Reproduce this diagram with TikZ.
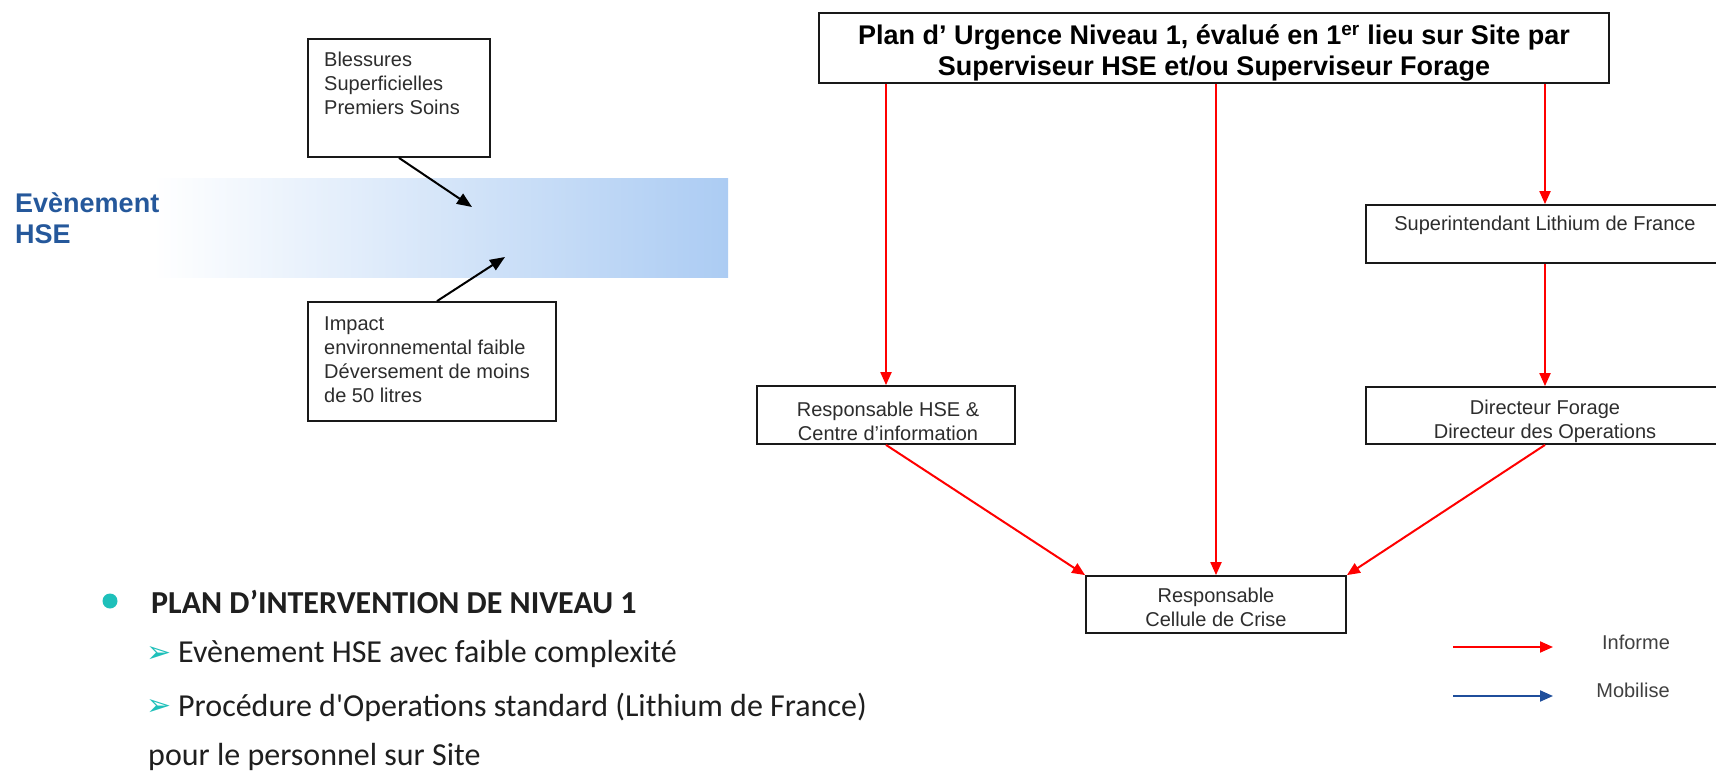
\documentclass[tikz,border=0pt]{standalone}
\usepackage{fontspec}
\setmainfont{Liberation Sans}
\newfontfamily\calib{Carlito}
\newfontfamily\dejavu{DejaVu Sans}
\usetikzlibrary{arrows.meta}
\definecolor{informered}{RGB}{255,0,0}
\definecolor{mobblue}{RGB}{31,78,155}
\definecolor{bandblue}{RGB}{172,204,243}
\definecolor{titleblue}{RGB}{37,88,155}
\definecolor{tealone}{RGB}{30,192,186}
\definecolor{boxtext}{RGB}{45,45,45}
\tikzset{
 box/.style={draw=black!90, line width=1.8pt, fill=white, inner sep=0pt},
 smalltxt/.style={font=\fontsize{20}{24}\selectfont, text=boxtext, inner sep=0pt, align=center},
 lefttxt/.style={smalltxt, align=left, anchor=west},
 boldtxt/.style={font=\bfseries\fontsize{27}{31}\selectfont, text=black, inner sep=0pt, align=center},
 informe/.style={draw=informered, line width=2pt, -{Triangle[length=13pt,width=11pt]}},
 mobilise/.style={draw=mobblue, line width=2pt, -{Triangle[length=13pt,width=11pt]}},
 blackarrow/.style={draw=black, line width=2pt, -{Triangle[length=15pt,width=12pt]}},
 bodytxt/.style={font=\calib\fontsize{32}{38}\selectfont, text=black!88, inner sep=0pt, anchor=west},
 bulletarrow/.style={font=\dejavu\fontsize{30}{34}\selectfont, text=tealone, inner sep=0pt, anchor=west},
}
\begin{document}
\begin{tikzpicture}[x=1pt,y=-1pt]
\useasboundingbox[fill=white] (0,0) rectangle (1716,771);

% left part
\shade[left color=white, right color=bandblue] (153,178) rectangle (728,277);
\node[font=\bfseries\fontsize{27}{31}\selectfont, text=titleblue, align=left, anchor=west, inner sep=0pt] (evt) at (15,218.5) {Evènement\\HSE};

\node[box, minimum width=182pt, minimum height=118pt] (bless) at (399,98) {};
\node[lefttxt] (blesst) at (324,83) {Blessures\\Superficielles\\Premiers Soins};

\node[box, minimum width=248pt, minimum height=119pt] (impact) at (432,361.5) {};
\node[lefttxt] (impactt) at (324,360) {Impact\\environnemental faible\\Déversement de moins\\de 50 litres};

\coordinate (e1) at (472,207);
\coordinate (e2) at (505,257);
\draw[blackarrow] (bless.south) -- (e1);
\draw[blackarrow] ([xshift=5pt]impact.north) -- (e2);

% right part
\node[box, minimum width=790pt, minimum height=70pt] (top) at (1214,48) {};
\node[boldtxt] (topt) at (1214,52.5) {Plan d’ Urgence Niveau 1, évalué en 1\textsuperscript{er} lieu sur Site par\\Superviseur HSE et/ou Superviseur Forage};

\node[box, minimum width=358pt, minimum height=58pt] (sup) at (1545,234) {};
\node[smalltxt] (supt) at (1545,225) {Superintendant Lithium de France};

\node[box, minimum width=358pt, minimum height=57pt] (dir) at (1545,415.5) {};
\node[smalltxt] (dirt) at (1545,421) {Directeur Forage\\Directeur des Operations};

\node[box, minimum width=258pt, minimum height=58pt] (hse) at (886,415) {};
\node[smalltxt] (hset) at (888,421.5) {Responsable HSE \&\\Centre d’information};

\node[box, minimum width=260pt, minimum height=57pt] (crise) at (1216,604.5) {};
\node[smalltxt] (criset) at (1216,607.5) {Responsable\\Cellule de Crise};

\draw[informe] (top.south -| hse.north) -- (hse.north);
\draw[informe] (top.south -| crise.north) -- (crise.north);
\draw[informe] (top.south -| sup.north) -- (sup.north);
\draw[informe] (sup.south) -- (dir.north);
\draw[informe] (hse.south) -- (crise.north west);
\draw[informe] (dir.south) -- (crise.north east);

% legend
\coordinate (l1a) at (1453,647);
\coordinate (l1b) at (1553,647);
\coordinate (l2a) at (1453,696);
\coordinate (l2b) at (1553,696);
\draw[informe] (l1a) -- (l1b);
\draw[mobilise] (l2a) -- (l2b);
\node[smalltxt, text=black!75] (inf) at (1636,642) {Informe};
\node[smalltxt, text=black!75] (mob) at (1633,690) {Mobilise};

% bottom text
\node[circle, fill=tealone, minimum size=15pt, inner sep=0pt] (dot) at (110,601) {};
\node[bodytxt, font=\calib\bfseries\fontsize{32}{38}\selectfont] (plan) at (151,602) {PLAN D’INTERVENTION DE NIVEAU 1};
\node[bulletarrow] (b1) at (146,654) {➢};
\node[bodytxt] (l2) at (178,654) {Evènement HSE avec faible complexité};
\node[bulletarrow] (b2) at (146,707) {➢};
\node[bodytxt] (l3) at (178,707) {Procédure d{\char"27}Operations standard (Lithium de France)};
\node[bodytxt] (l4) at (148,757) {pour le personnel sur Site};
\end{tikzpicture}
\end{document}
